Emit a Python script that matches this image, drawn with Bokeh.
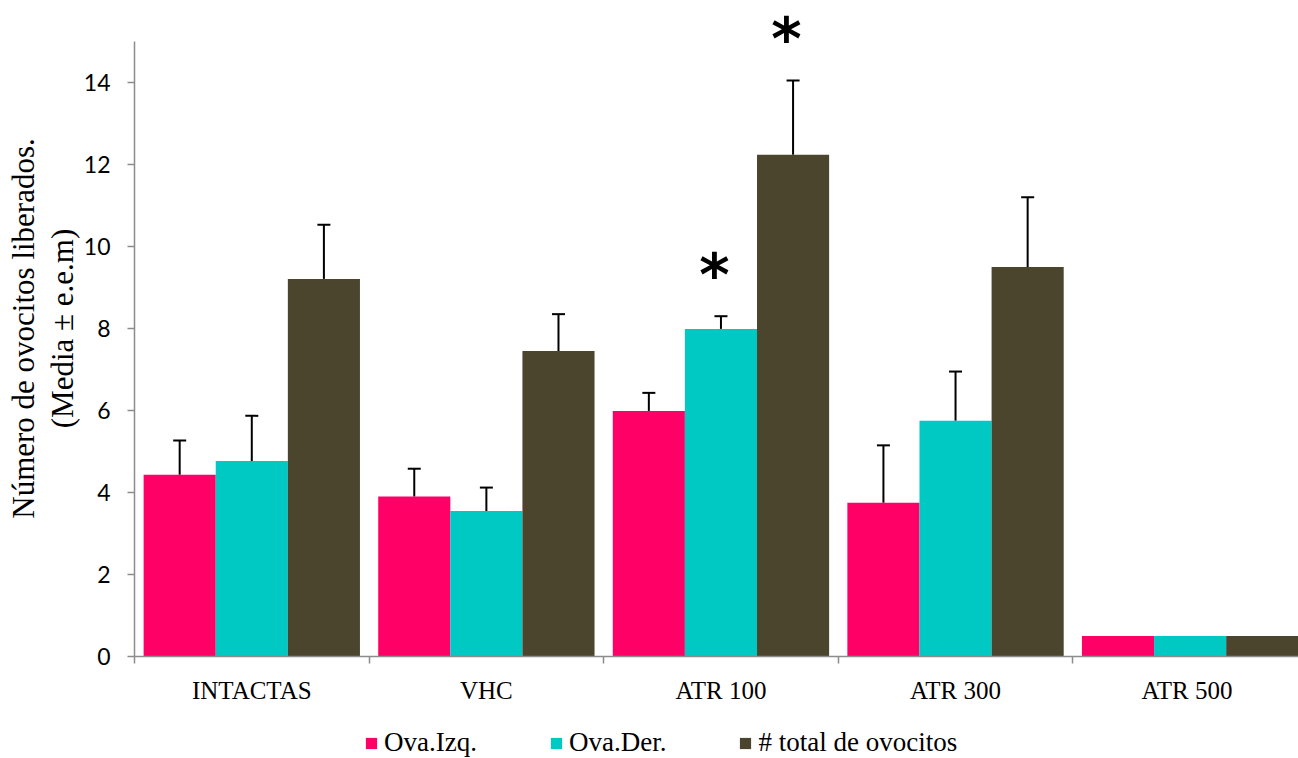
from bokeh.plotting import figure
from bokeh.layouts import column
from bokeh.models import (ColumnDataSource, Range1d, FixedTicker, Whisker,
                          TeeHead, Legend, LegendItem)
from bokeh.core.properties import value
from bokeh.embed import file_html
from bokeh.resources import INLINE

# Mean number of released oocytes per group, with standard error of the mean
categories = ["INTACTAS", "VHC", "ATR 100", "ATR 300", "ATR  500"]
ova_izq = [4.43, 3.90, 5.99, 3.75, 0.50]
ova_izq_err = [0.84, 0.68, 0.44, 1.40, 0.0]
ova_der = [4.77, 3.55, 7.99, 5.75, 0.50]
ova_der_err = [1.10, 0.57, 0.31, 1.20, 0.0]
total = [9.21, 7.45, 12.24, 9.50, 0.50]
total_err = [1.32, 0.90, 1.81, 1.70, 0.0]
y_ticks = [0, 2, 4, 6, 8, 10, 12, 14]

series_names = ["Ova.Izq.", "Ova.Der.", "# total de ovocitos"]
series_colors = ["#FF0066", "#00C8C3", "#4B452D"]
series_values = [ova_izq, ova_der, total]
series_errors = [ova_izq_err, ova_der_err, total_err]

# significant differences: (category index, series index)
significant = [(2, 1), (2, 2)]

SERIF = "Liberation Serif"
BAR_W = 0.3074
centers = [i + 0.5 for i in range(len(categories))]
offsets = [-BAR_W, 0.0, BAR_W]

p = figure(width=1298, height=712,
           x_range=Range1d(0, 4.962), y_range=Range1d(0, 16),
           output_backend="svg", toolbar_location=None,
           min_border_left=134, min_border_right=0,
           min_border_top=0, min_border_bottom=56)
p.outline_line_color = None
p.xgrid.visible = False
p.ygrid.visible = False
p.background_fill_color = "white"
p.border_fill_color = "white"

for vals, errs, color, off in zip(series_values, series_errors,
                                  series_colors, offsets):
    xs = [c + off for c in centers]
    src = ColumnDataSource(dict(x=xs, top=vals))
    p.vbar(x="x", top="top", width=BAR_W, source=src,
           fill_color=color, line_color=None)
    ex = [x for x, e in zip(xs, errs) if e > 0]
    lo = [v for v, e in zip(vals, errs) if e > 0]
    hi = [v + e for v, e in zip(vals, errs) if e > 0]
    esrc = ColumnDataSource(dict(x=ex, lower=lo, upper=hi))
    p.add_layout(Whisker(base="x", lower="lower", upper="upper", source=esrc,
                         line_color="black", line_width=2,
                         lower_head=None,
                         upper_head=TeeHead(size=13, line_color="black",
                                            line_width=2)))

# asterisks above the significant bars
sx = [centers[c] + offsets[s] - 0.028 for c, s in significant]
sy = [series_values[s][c] + series_errors[s][c] + 1.17 for c, s in significant]
p.text(x=sx, y=sy, text=["*"] * len(sx), text_font=value("DejaVu Sans"),
       text_font_style="bold", text_font_size="58px", text_color="black",
       text_align="center", text_baseline="middle", y_offset=7)

# x axis: category names centred, ticks on category boundaries
xa = p.xaxis[0]
xa.ticker = FixedTicker(ticks=centers,
                        minor_ticks=list(range(len(categories) + 1)))
xa.major_label_overrides = {c: name for c, name in zip(centers, categories)}
xa.major_tick_line_color = None
xa.minor_tick_in = 0
xa.minor_tick_out = 7
xa.minor_tick_line_color = "#8C8C8C"
xa.minor_tick_line_width = 1.5
xa.axis_line_color = "#8C8C8C"
xa.axis_line_width = 1.5
xa.major_label_text_font = SERIF
xa.major_label_text_font_size = "25px"
xa.major_label_text_color = "black"
xa.major_label_standoff = 13

ya = p.yaxis[0]
ya.ticker = FixedTicker(ticks=y_ticks, minor_ticks=[])
ya.bounds = (0, 15)
ya.axis_line_color = "#8C8C8C"
ya.axis_line_width = 1.5
ya.major_tick_line_color = "#8C8C8C"
ya.major_tick_line_width = 1.5
ya.major_tick_in = 0
ya.major_tick_out = 7
ya.minor_tick_line_color = None
ya.major_label_text_font = "Lato"
ya.major_label_text_font_size = "23px"
ya.major_label_text_color = "black"
ya.major_label_standoff = 17
ya.axis_label = "Número de ovocitos liberados.\n(Media ± e.e.m)"
ya.axis_label_text_font = SERIF
ya.axis_label_text_font_size = "31px"
ya.axis_label_text_line_height = 1.1
ya.axis_label_text_font_style = "normal"
ya.axis_label_text_color = "black"
ya.axis_label_standoff = 1

# legend strip under the chart (its frame lines up with the chart's frame)
q = figure(width=1298, height=46, x_range=Range1d(0, 1), y_range=Range1d(0, 1),
           output_backend="svg", toolbar_location=None,
           x_axis_type=None, y_axis_type=None,
           min_border_left=0, min_border_right=0,
           min_border_top=0, min_border_bottom=0)
q.outline_line_color = None
q.xgrid.visible = False
q.ygrid.visible = False
# zero-height swatch renderers, only used for the legend keys
swatches = [q.vbar(x=[-1], top=[0], width=0.1, fill_color=c, line_color=None)
            for c in series_colors]
legend = Legend(items=[LegendItem(label=n, renderers=[r])
                       for n, r in zip(series_names, swatches)],
                orientation="horizontal", location=(230, 0),
                glyph_width=14, glyph_height=14, label_standoff=6,
                spacing=72, padding=0, margin=0,
                border_line_color=None, background_fill_alpha=0,
                label_text_font=SERIF, label_text_font_size="27px",
                label_text_color="black")
q.add_layout(legend, "center")

page = column(p, q, spacing=0)
open("out.html", "w").write(file_html(page, INLINE))
